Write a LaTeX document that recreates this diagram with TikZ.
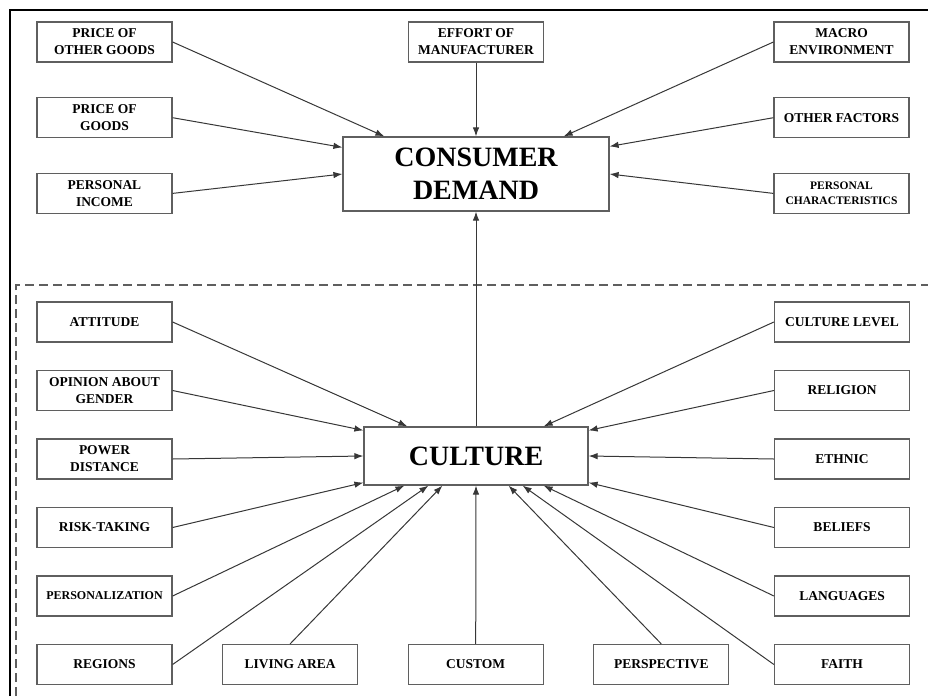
\documentclass[tikz,border=0pt]{standalone}
\usepackage{fontspec}
\setmainfont{Liberation Serif}
\usetikzlibrary{arrows.meta, positioning}
\definecolor{boxgray}{RGB}{95,95,95}
\definecolor{linegray}{RGB}{55,55,55}

\begin{document}
\begin{tikzpicture}[x=1pt, y=-1pt,
                    factor/.style= {rectangle,
                      draw=boxgray,
                      line width=1.2pt,
                      align=center,
                      inner sep=0pt,
                      font=\bfseries\fontsize{13.5}{17}\selectfont,
                      minimum width=135pt,
                      minimum height=40pt},
                    core/.style= {rectangle,
                      draw=boxgray,
                      line width=1.2pt,
                      align=center,
                      inner sep=0pt,
                      font=\bfseries\fontsize{28}{33}\selectfont},
                    link/.style= {draw=linegray,
                      line width=1pt,
                      -{Latex[length=9pt,width=6.5pt]}}]

  \useasboundingbox (0,0) rectangle (928,696);
  \draw[line width=1.2pt] (10,696) -- (10,10) -- (928,10);
  \draw[draw=boxgray, line width=1.3pt, dash pattern=on 9pt off 5pt]
    (16,696) -- (16,285) -- (928,285);

  % consumer demand and its factors
  \node[core, minimum width=266pt, minimum height=74pt] (cd) at (476,174) {CONSUMER\\DEMAND};
  \node[factor] (1) at (104.5,42) {PRICE OF\\OTHER GOODS};
  \node[factor] (2) [below=34.5pt of 1] {PRICE OF\\GOODS};
  \node[factor] (3) [below=34.5pt of 2] {PERSONAL\\INCOME};
  \node[factor] (4) at (476,42) {EFFORT OF\\MANUFACTURER};
  \node[factor] (5) at (841.5,42) {MACRO\\ENVIRONMENT};
  \node[factor] (6) [below=34.5pt of 5] {OTHER FACTORS};
  \node[factor, font=\bfseries\fontsize{11.5}{15}\selectfont] (7) [below=34.5pt of 6] {PERSONAL\\CHARACTERISTICS};

  % culture and its factors
  \node[core, minimum width=224pt, minimum height=58pt] (cu) at (476,456) {CULTURE};
  \node[factor] (8) at (104.5,322) {ATTITUDE};
  \node[factor] (9) [below=27.3pt of 8] {OPINION ABOUT\\GENDER};
  \node[factor] (10) [below=27.3pt of 9] {POWER\\DISTANCE};
  \node[factor] (11) [below=27.3pt of 10] {RISK-TAKING};
  \node[factor, font=\bfseries\fontsize{12}{15}\selectfont] (12) [below=27.3pt of 11] {PERSONALIZATION};
  \node[factor] (13) [below=27.3pt of 12] {REGIONS};
  \node[factor] (14) [right=49.4pt of 13] {LIVING AREA};
  \node[factor] (15) [right=49.4pt of 14] {CUSTOM};
  \node[factor] (16) [right=49.4pt of 15] {PERSPECTIVE};
  \node[factor] (17) at (842,322) {CULTURE LEVEL};
  \node[factor] (18) [below=27.3pt of 17] {RELIGION};
  \node[factor] (19) [below=27.3pt of 18] {ETHNIC};
  \node[factor] (20) [below=27.3pt of 19] {BELIEFS};
  \node[factor] (21) [below=27.3pt of 20] {LANGUAGES};
  \node[factor] (22) [below=27.3pt of 21] {FAITH};

  \path[every edge/.style=link]
    (1.east) edge ([xshift=42pt]cd.north west)
    (2.east) edge ([yshift=-11pt]cd.north west)
    (3.east) edge (cd.west)
    (4) edge (cd)
    (5.west) edge ([xshift=-46pt]cd.north east)
    (6.west) edge ([yshift=-10pt]cd.north east)
    (7.west) edge (cd.east)
    (cu) edge (cd);

  \path[every edge/.style=link]
    (8.east) edge ([xshift=44pt]cu.north west)
    (9.east) edge ([yshift=-4pt]cu.north west)
    (10.east) edge (cu.west)
    (11.east) edge ([yshift=3pt]cu.south west)
    (12.east) edge ([xshift=41pt]cu.south west)
    (13.east) edge ([xshift=65pt]cu.south west)
    (14.north) edge ([xshift=79pt]cu.south west)
    (15.north) edge (cu.south)
    (16.north) edge ([xshift=-80pt]cu.south east)
    (22.west) edge ([xshift=-66pt]cu.south east)
    (21.west) edge ([xshift=-45pt]cu.south east)
    (20.west) edge ([yshift=3pt]cu.south east)
    (19.west) edge (cu.east)
    (18.west) edge ([yshift=-4pt]cu.north east)
    (17.west) edge ([xshift=-45pt]cu.north east);
\end{tikzpicture}
\end{document}
